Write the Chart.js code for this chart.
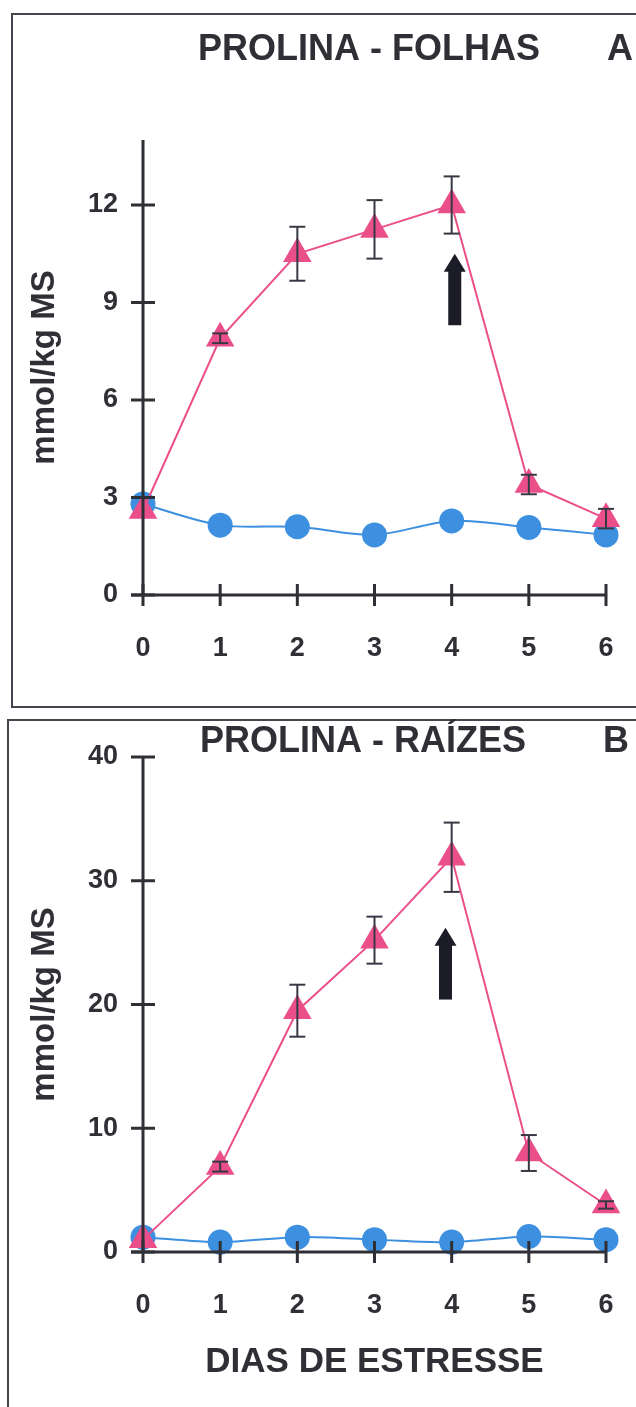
<!DOCTYPE html>
<html>
<head>
<meta charset="utf-8">
<script src="https://cdn.jsdelivr.net/npm/chart.js@4"></script>
<style>
html, body { margin: 0; padding: 0; background: #fff; }
body { width: 636px; height: 1407px; position: relative; overflow: hidden; }
.frame { position: absolute; border: 2px solid #45454d; }
#frameA { left: 11px; top: 13px; width: 680px; height: 691px; }
#frameB { left: 7px; top: 719px; width: 680px; height: 720px; }
.box { position: absolute; left: 0; width: 636px; }
#boxA { top: 0; height: 706px; }
#boxB { top: 707px; height: 700px; }
</style>
</head>
<body>
<div class="frame" id="frameA"></div>
<div class="frame" id="frameB"></div>
<div class="box" id="boxA"><canvas id="chartA"></canvas></div>
<div class="box" id="boxB"><canvas id="chartB"></canvas></div>
<script>
// dias de estresse
const days = [0, 1, 2, 3, 4, 5, 6];

// A - folhas
const folhasEstresse = [2.6, 7.9, 10.5, 11.25, 12.0, 3.4, 2.35];
const folhasEstresseErr = [0, 0.15, 0.83, 0.9, 0.88, 0.3, 0.3];
const folhasControle = [2.8, 2.15, 2.1, 1.85, 2.28, 2.08, 1.85];
const folhasTicks = [0, 3, 6, 9, 12];
const folhasArrow = [4.04, 8.3, 10.5]; // x, cauda, ponta

// B - raizes
const raizesEstresse = [1.0, 6.9, 19.5, 25.2, 31.9, 8.0, 3.8];
const raizesEstresseErr = [0, 0.4, 2.1, 1.9, 2.8, 1.45, 0.3];
const raizesControle = [1.2, 0.8, 1.2, 1.0, 0.8, 1.25, 1.0];
const raizesTicks = [0, 10, 20, 30, 40];
const raizesArrow = [3.92, 20.4, 26.2];

const ink = '#2f2f36';
const family = '"Liberation Sans", Arial, sans-serif';
const pink = '#ea4f8a';
const blue = '#3d8fdf';

function seg(ctx, x1, y1, x2, y2) {
    ctx.beginPath();
    ctx.moveTo(x1, y1);
    ctx.lineTo(x2, y2);
    ctx.stroke();
}

const decor = {
    id: 'decor',
    afterDraw(chart, args, o) {
        const {ctx, chartArea: a, scales: {x, y}} = chart;
        ctx.save();

        // error bars
        ctx.strokeStyle = '#383845';
        ctx.lineWidth = 2;
        o.values.forEach((v, i) => {
            const e = o.err[i];
            if (!e) return;
            const px = x.getPixelForValue(days[i]);
            const t = y.getPixelForValue(v + e);
            const b = y.getPixelForValue(v - e);
            seg(ctx, px, t, px, b);
            seg(ctx, px - 8, t, px + 8, t);
            seg(ctx, px - 8, b, px + 8, b);
        });

        // axes with crossing tick marks
        ctx.strokeStyle = ink;
        ctx.lineWidth = 3;
        seg(ctx, a.left, a.bottom, a.left, a.top);
        seg(ctx, a.left - 12, a.bottom, a.right, a.bottom);
        y.ticks.forEach(t => {
            const py = y.getPixelForValue(t.value);
            seg(ctx, a.left - 12, py, a.left + 12, py);
        });
        x.ticks.forEach(t => {
            const px = x.getPixelForValue(t.value);
            seg(ctx, px, a.bottom - 11, px, a.bottom + 11);
        });

        // arrow
        const ax = x.getPixelForValue(o.arrow[0]);
        const tail = y.getPixelForValue(o.arrow[1]);
        const tip = y.getPixelForValue(o.arrow[2]);
        ctx.fillStyle = '#1c1c28';
        ctx.fillRect(ax - 6.5, tip + 16, 13, tail - tip - 16);
        ctx.beginPath();
        ctx.moveTo(ax, tip);
        ctx.lineTo(ax + 11, tip + 18);
        ctx.lineTo(ax - 11, tip + 18);
        ctx.closePath();
        ctx.fill();

        // title and panel letter
        ctx.fillStyle = ink;
        ctx.font = 'bold 36px ' + family;
        ctx.textAlign = 'center';
        ctx.textBaseline = 'alphabetic';
        ctx.fillText(o.title, o.titleX, o.titleY);
        ctx.fillText(o.letter, o.letterX, o.titleY);
        ctx.restore();
    }
};

function makeChart(id, estresse, err, controle, ticks, ymax, top, xHeight, xTitle, deco) {
    return new Chart(document.getElementById(id), {
        type: 'line',
        data: {
            datasets: [{
                data: days.map((d, i) => ({x: d, y: estresse[i]})),
                borderColor: pink,
                backgroundColor: pink,
                borderWidth: 2,
                pointStyle: 'triangle',
                pointRadius: 16.5,
                pointBorderWidth: 0,
                clip: false
            }, {
                data: days.map((d, i) => ({x: d, y: controle[i]})),
                borderColor: blue,
                backgroundColor: blue,
                borderWidth: 2,
                tension: 0.3,
                pointStyle: 'circle',
                pointRadius: 12.5,
                pointBorderWidth: 0,
                clip: false
            }]
        },
        options: {
            responsive: true,
            maintainAspectRatio: false,
            animation: false,
            layout: {
                padding: {left: 0, right: 30, top: top, bottom: 0}
            },
            plugins: {
                legend: {display: false},
                tooltip: {enabled: false},
                decor: deco
            },
            scales: {
                x: {
                    type: 'linear',
                    min: 0,
                    max: 6,
                    afterBuildTicks: s => { s.ticks = days.map(v => ({value: v})); },
                    afterFit: s => { s.height = xHeight; s.paddingLeft = 0; s.paddingRight = 0; },
                    grid: {display: false, drawTicks: false},
                    border: {display: false},
                    ticks: {
                        color: ink,
                        padding: 37,
                        maxRotation: 0,
                        font: {family: family, size: 27, weight: 'bold'}
                    },
                    title: {
                        display: !!xTitle,
                        text: xTitle,
                        color: ink,
                        font: {family: family, size: 35, weight: 'bold'},
                        padding: {top: 0, bottom: 24}
                    }
                },
                y: {
                    type: 'linear',
                    min: 0,
                    max: ymax,
                    afterBuildTicks: s => { s.ticks = ticks.map(v => ({value: v})); },
                    afterFit: s => { s.width = 143; s.paddingTop = 0; s.paddingBottom = 0; },
                    grid: {display: false, drawTicks: false},
                    border: {display: false},
                    ticks: {
                        color: ink,
                        padding: 25,
                        font: {family: family, size: 27, weight: 'bold'}
                    },
                    title: {
                        display: true,
                        text: 'mmol/kg MS',
                        color: ink,
                        font: {family: family, size: 33, weight: 'bold'},
                        padding: {top: 25, bottom: 0}
                    }
                }
            }
        },
        plugins: [decor]
    });
}

makeChart('chartA', folhasEstresse, folhasEstresseErr, folhasControle, folhasTicks, 14, 140, 111, '', {
    values: folhasEstresse, err: folhasEstresseErr, arrow: folhasArrow,
    title: 'PROLINA - FOLHAS', titleX: 369, titleY: 60, letter: 'A', letterX: 620
});

makeChart('chartB', raizesEstresse, raizesEstresseErr, raizesControle, raizesTicks, 40, 50, 155, 'DIAS DE ESTRESSE', {
    values: raizesEstresse, err: raizesEstresseErr, arrow: raizesArrow,
    title: 'PROLINA - RAÍZES', titleX: 363, titleY: 45, letter: 'B', letterX: 616
});
</script>
</body>
</html>
